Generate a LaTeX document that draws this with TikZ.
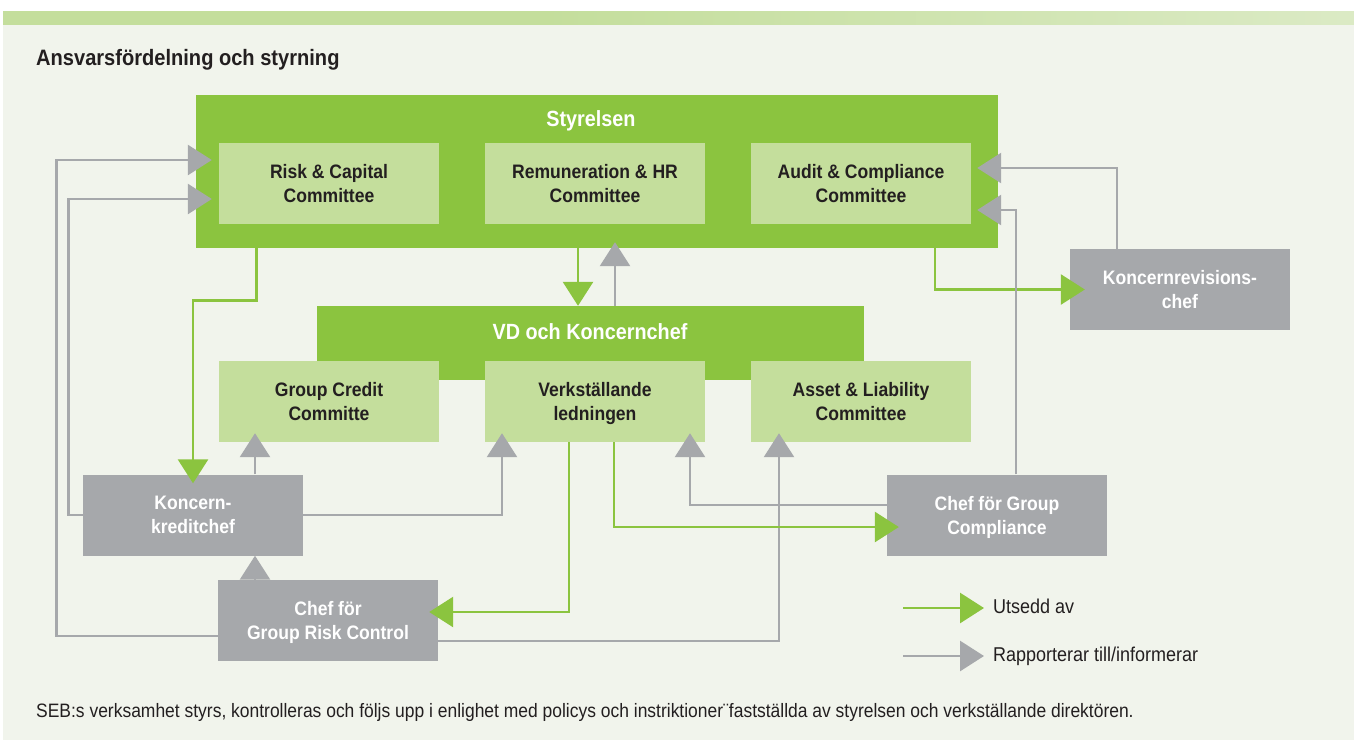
\documentclass[tikz,border=0pt]{standalone}
\usepackage{fontspec}
\setmainfont{Liberation Sans}[FakeStretch=0.9]
\usetikzlibrary{arrows.meta}
\definecolor{sebgreen}{RGB}{139,196,63}
\definecolor{seblight}{RGB}{196,222,156}
\definecolor{sebgray}{RGB}{166,168,171}
\definecolor{sebdark}{RGB}{35,31,32}
\definecolor{sebbg}{RGB}{241,244,236}
\definecolor{barright}{RGB}{238,244,230}
\pgfdeclarehorizontalshading{barshade}{100bp}{color(0bp)=(seblight); color(45bp)=(seblight); color(100bp)=(barright)}

\begin{document}
\begin{tikzpicture}[x=1pt,y=-1pt,
  box/.style={minimum width=220pt,minimum height=81pt,inner sep=0pt,text depth=0pt,align=center,font=\bfseries\fontsize{19.5}{24}\selectfont},
  committee/.style={box,fill=seblight,text=sebdark},
  chief/.style={box,fill=sebgray,text=white},
  headline/.style={text=white,inner sep=0pt,font=\bfseries\fontsize{22}{26}\selectfont},
  legend/.style={anchor=west,inner sep=0pt,text height=14pt,text depth=4pt,text=sebdark,font=\fontsize{20}{24}\selectfont},
  link/.style={line width=2.8pt,-{Triangle[length=24pt,width=30pt]},shorten >=-9pt},
  appoint/.style={link,draw=sebgreen,-{Triangle[length=24pt,width=30pt,fill=sebgreen]}},
  report/.style={link,draw=sebgray,-{Triangle[length=24pt,width=30pt,fill=sebgray]}}]
\useasboundingbox (0,0) rectangle (1354,740);
% background and top bar
\fill[sebbg] (3,24) rectangle (1354,740);
\shade[shading=barshade] (3,11) rectangle (1354,24);
\node[anchor=base west,inner sep=0pt,text=sebdark,font=\bfseries\fontsize{22.3}{26}\selectfont] (title) at (36,65) {Ansvarsfördelning och styrning};
% board
\node[fill=sebgreen,minimum width=802pt,minimum height=153pt,inner sep=0pt] (styrelsen) at (597,171.5) {};
\node[headline] (styrelsentxt) at (591,121) {Styrelsen};
\node[committee] (riskcap) at (329,183.5) {Risk \& Capital\\Committee};
\node[committee] (remun) at (595,183.5) {Remuneration \& HR\\Committee};
\node[committee] (audit) at (861,183.5) {Audit \& Compliance\\Committee};
% CEO
\node[fill=sebgreen,minimum width=547pt,minimum height=74pt,inner sep=0pt] (vd) at (590.5,343) {};
\node[headline] (vdtxt) at (590,332) {VD och Koncernchef};
\node[committee] (credit) at (329,401.5) {Group Credit\\Committe};
\node[committee] (verk) at (595,401.5) {Verkst\smash{ä}llande\\ledningen};
\node[committee] (alco) at (861,401.5) {Asset \& Liability\\Committee};
% chiefs
\node[chief] (revchef) at (1180,289.5) {Koncernrevisions-\\chef};
\node[chief] (kredit) at (193,515) {Koncern-\\kreditchef};
\node[chief] (compl) at (997,515) {Chef för Group\\Compliance};
\node[chief] (riskctrl) at (328,620.5) {Chef för\\Group Risk Control};
% connectors
\draw[appoint] ([xshift=61pt]styrelsen.south west) -- ++(0,52) -| (kredit.north);
\draw[appoint,shorten >=0pt] ([xshift=-19pt]styrelsen.south) -- ([xshift=-19pt]styrelsen.south |- vd.north);
\draw[report,shorten >=-6pt] ([xshift=24.5pt]vd.north) -- ([xshift=24.5pt]vd.north |- styrelsen.south);
\draw[appoint,shorten >=-15pt] ([xshift=338pt]styrelsen.south) |- (revchef.west);
\draw[report,shorten >=6pt] ([xshift=-63pt]revchef.north) |- ([yshift=15.5pt]audit.east);
\draw[report,shorten >=6pt] ([xshift=19pt]compl.north) |- ([yshift=-26.5pt]audit.east);
\draw[report,shorten >=7pt] (kredit.west) -- ++(-14,0) |- ([yshift=-15.5pt]riskcap.west);
\draw[report,shorten >=7pt] ([yshift=-15.5pt]riskctrl.west) -- ++(-161,0) |- ([yshift=23.5pt]riskcap.west);
\draw[report] ([xshift=62pt]kredit.north) -- ([xshift=62pt]kredit.north |- credit.south);
\draw[report,shorten >=0pt] ([xshift=-73pt]riskctrl.north) -- ([xshift=-73pt]riskctrl.north |- kredit.south);
\draw[report] (kredit.east) -| ([xshift=-93pt]verk.south);
\draw[appoint] ([xshift=-26pt]verk.south) |- ([yshift=8.5pt]riskctrl.east);
\draw[report] ([yshift=-20.5pt]riskctrl.east) -| ([xshift=-82pt]alco.south);
\draw[appoint,shorten >=-12pt] ([xshift=19pt]verk.south) |- ([yshift=-12pt]compl.west);
\draw[report] ([yshift=10pt]compl.west) -| ([xshift=95pt]verk.south);
% legend
\coordinate (lgA) at (903,608);
\node[legend] (utsedd) at (993,608) {Utsedd av};
\draw[appoint,shorten >=9pt] (lgA) -- (utsedd.west);
\coordinate (lgB) at (903,656);
\node[legend] (rapport) at (993,656) {Rapporterar till/informerar};
\draw[report,shorten >=9pt] (lgB) -- (rapport.west);
% note
\node[anchor=base west,inner sep=0pt,text=sebdark,font=\fontsize{19.4}{22}\selectfont] (note) at (36,717) {SEB:s verksamhet styrs, kontrolleras och följs upp i enlighet med policys och instriktioner¨fastställda av styrelsen och verkställande direktören.};
\end{tikzpicture}
\end{document}
